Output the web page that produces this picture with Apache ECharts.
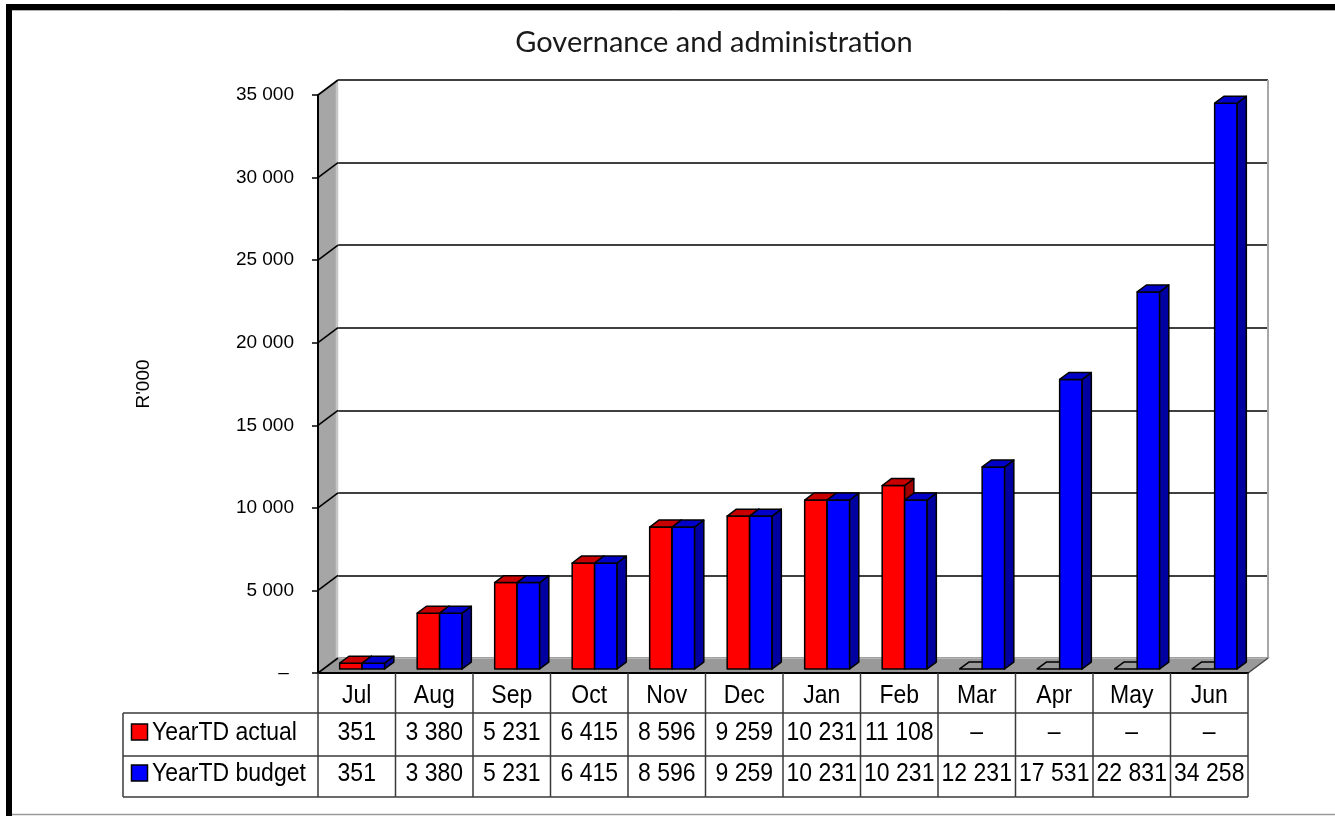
<!DOCTYPE html>
<html>
<head>
<meta charset="utf-8">
<title>Governance and administration</title>
<script src="https://cdn.jsdelivr.net/npm/echarts@6/dist/echarts.min.js"></script>
<style>
  html, body { margin: 0; padding: 0; background: #fff; }
  #chart { width: 1335px; height: 816px; }
</style>
</head>
<body>
<div id="chart"></div>
<script>
// ---- data -------------------------------------------------------------
const categories = ['Jul', 'Aug', 'Sep', 'Oct', 'Nov', 'Dec', 'Jan', 'Feb', 'Mar', 'Apr', 'May', 'Jun'];
const yearTdActual = [351, 3380, 5231, 6415, 8596, 9259, 10231, 11108, 0, 0, 0, 0];
const yearTdBudget = [351, 3380, 5231, 6415, 8596, 9259, 10231, 10231, 12231, 17531, 22831, 34258];
const seriesNames = ['YearTD actual', 'YearTD budget'];
const yMax = 35000;
const yStep = 5000;
const unitLabel = "R'000";
const chartTitle = 'Governance and administration';

// ---- layout & style ---------------------------------------------------
const PLOT = { left: 318, top: 95, width: 930, height: 578 };   // front plane of the 3-D box
const DEPTH = { x: 20, y: -15 };                                  // box depth projection
const BAR_FRONT = 0.27, BAR_BACK = 0.73;                          // bar depth slot inside the box
const BAR_WIDTH = 0.29;                                           // share of a category band
const ROW_H = [40, 43, 41];                                       // data table row heights
const LEGEND_COL_W = 195;
const TABLE_FONT = '"Liberation Sans", Arial, sans-serif';
const TABLE_LINE = '#3a3a3a';
const TEXT_STRETCH = 1.15;                                        // tall, narrow table lettering
const FLOOR = '#999999';
const SIDE_WALL = '#a6a6a6';

const palette = {
  actual: { front: '#ff0000', top: '#c80000', side: '#a00000' },
  budget: { front: '#0000ff', top: '#0000c8', side: '#0000a0' }
};
const seriesColors = [palette.actual.front, palette.budget.front];

function fmt(v) {
  if (v === 0) return '\u2013';
  return String(v).replace(/\B(?=(\d{3})+(?!\d))/g, ' ');
}

function tallText(text, x, y, align) {
  return {
    type: 'text', x: x, y: y, scaleY: TEXT_STRETCH,
    style: { text: text, x: 0, y: 0, fontSize: 23, fontFamily: TABLE_FONT, fill: '#000',
      align: align || 'center', verticalAlign: 'middle' }
  };
}

// ---- renderers --------------------------------------------------------
function wallRenderer(params, api) {
  const cs = params.coordSys;
  const L = cs.x, T = cs.y, R = cs.x + cs.width, B = cs.y + cs.height;
  const dx = DEPTH.x, dy = DEPTH.y;
  const y = api.coord([0, api.value(1)])[1];
  const children = [];
  if (params.dataIndex === 0) {
    children.push({ type: 'polygon', shape: { points: [[L, T], [L + dx, T + dy], [L + dx, B + dy], [L, B]] },
      style: { fill: SIDE_WALL } });
    children.push({ type: 'line', shape: { x1: L + dx - 1, y1: T + dy, x2: L + dx - 1, y2: B + dy },
      style: { stroke: '#c6c6c6', lineWidth: 2.5 } });
    children.push({ type: 'polygon', shape: { points: [[L, B], [L + dx, B + dy], [R + dx, B + dy], [R, B]] },
      style: { fill: FLOOR, stroke: '#c0c0c0', lineWidth: 1.5 } });
    children.push({ type: 'line', shape: { x1: R + dx, y1: T + dy, x2: R + dx, y2: B + dy },
      style: { stroke: '#a8a8a8', lineWidth: 2 } });
    children.push({ type: 'line', shape: { x1: R, y1: B, x2: R + dx, y2: B + dy },
      style: { stroke: '#444', lineWidth: 1.5 } });
  }
  children.push({ type: 'line', shape: { x1: L, y1: y, x2: L + dx, y2: y + dy },
    style: { stroke: '#000', lineWidth: 1.6 } });
  return { type: 'group', children };
}

function barRenderer(side, colors) {
  return function (params, api) {
    const i = api.value(0), v = api.value(1);
    const base = api.coord([i, 0]);
    const top = api.coord([i, v]);
    const band = api.size([1, 0])[0];
    const w = band * BAR_WIDTH;
    const fx = DEPTH.x * BAR_FRONT, fy = DEPTH.y * BAR_FRONT;
    const dx = DEPTH.x * (BAR_BACK - BAR_FRONT), dy = DEPTH.y * (BAR_BACK - BAR_FRONT);
    const xl = base[0] + (side === 0 ? -w : 0) + fx;
    const xr = xl + w;
    const yb = base[1] + fy, yt = top[1] + fy;
    const edge = { stroke: '#000', lineWidth: 1.5, lineJoin: 'round' };
    const children = [];
    if (v > 0) {
      children.push({ type: 'polygon', shape: { points: [[xl, yt], [xr, yt], [xr, yb], [xl, yb]] },
        style: Object.assign({ fill: colors.front }, edge) });
      children.push({ type: 'polygon', shape: { points: [[xr, yt], [xr + dx, yt + dy], [xr + dx, yb + dy], [xr, yb]] },
        style: Object.assign({ fill: colors.side }, edge) });
    }
    children.push({ type: 'polygon', shape: { points: [[xl, yt], [xr, yt], [xr + dx, yt + dy], [xl + dx, yt + dy]] },
      style: Object.assign({ fill: v > 0 ? colors.top : FLOOR }, edge) });
    return { type: 'group', children };
  };
}

// data table under the plot: header row with months, one row per series
function tableRenderer(params, api) {
  const i = api.value(0);
  const c = api.coord([i, 0]);
  const band = api.size([1, 0])[0];
  const x0 = c[0] - band / 2, x1 = c[0] + band / 2;
  const y0 = c[1];
  const y1 = y0 + ROW_H[0], y2 = y1 + ROW_H[1], y3 = y2 + ROW_H[2];
  const r1 = (y1 + y2) / 2 - 1.5, r2 = (y2 + y3) / 2 - 2.5;
  const ln = { stroke: TABLE_LINE, lineWidth: 1.5 };
  const children = [
    { type: 'line', shape: { x1: x0, y1: y0, x2: x0, y2: y3 }, style: ln },
    { type: 'line', shape: { x1: x0, y1: y1, x2: x1, y2: y1 }, style: ln },
    { type: 'line', shape: { x1: x0, y1: y2, x2: x1, y2: y2 }, style: ln },
    { type: 'line', shape: { x1: x0, y1: y3, x2: x1, y2: y3 }, style: ln },
    tallText(categories[i], c[0], (y0 + y1) / 2 + 3),
    tallText(fmt(yearTdActual[i]), c[0], r1),
    tallText(fmt(yearTdBudget[i]), c[0], r2)
  ];
  if (i === categories.length - 1) {
    children.push({ type: 'line', shape: { x1: x1, y1: y0, x2: x1, y2: y3 }, style: ln });
  }
  if (i === 0) {
    const lx = x0 - LEGEND_COL_W;
    children.push({ type: 'line', shape: { x1: lx, y1: y1, x2: x0, y2: y1 }, style: ln });
    children.push({ type: 'line', shape: { x1: lx, y1: y2, x2: x0, y2: y2 }, style: ln });
    children.push({ type: 'line', shape: { x1: lx, y1: y3, x2: x0, y2: y3 }, style: ln });
    children.push({ type: 'line', shape: { x1: lx, y1: y1, x2: lx, y2: y3 }, style: ln });
    [r1, r2].forEach(function (ry, k) {
      children.push({ type: 'rect', shape: { x: lx + 8.5, y: ry - 9, width: 16, height: 16 },
        style: { fill: seriesColors[k], stroke: '#000', lineWidth: 1.5 } });
      children.push(tallText(seriesNames[k], lx + 29, ry, 'left'));
    });
  }
  return { type: 'group', children };
}

// ---- chart ------------------------------------------------------------
const chart = echarts.init(document.getElementById('chart'), null, { renderer: 'canvas' });

const tickValues = [];
for (let v = 0; v <= yMax; v += yStep) tickValues.push(v);

const option = {
  animation: false,
  backgroundColor: '#fff',
  title: {
    text: chartTitle,
    left: 709,
    textAlign: 'center',
    top: 23,
    textStyle: { fontFamily: 'Lato, "Open Sans", sans-serif', fontSize: 29, fontWeight: 'normal', color: '#1a1a1a' }
  },
  grid: [
    { left: PLOT.left, top: PLOT.top, width: PLOT.width, height: PLOT.height },
    { left: PLOT.left + DEPTH.x, top: PLOT.top + DEPTH.y, width: PLOT.width, height: PLOT.height }
  ],
  xAxis: [
    {
      gridIndex: 0, type: 'category', data: categories, z: 5,
      axisLine: { show: true, lineStyle: { color: '#000', width: 2 } },
      axisTick: { show: false },
      axisLabel: { show: false },
      splitLine: { show: false }
    },
    { gridIndex: 1, type: 'category', data: categories, show: false }
  ],
  yAxis: [
    {
      gridIndex: 0, type: 'value', min: 0, max: yMax, interval: yStep, z: 5,
      name: unitLabel, nameLocation: 'middle', nameGap: 165,
      nameTextStyle: { fontFamily: TABLE_FONT, fontSize: 19, color: '#000' },
      axisLine: { show: true, lineStyle: { color: '#000', width: 2 } },
      axisTick: { show: true, inside: false, length: 6, lineStyle: { color: '#000', width: 1.5 } },
      axisLabel: {
        fontFamily: TABLE_FONT, fontSize: 19, color: '#000', margin: 24,
        formatter: v => (v === 0 ? '\u2013 ' : fmt(v))
      },
      splitLine: { show: false }
    },
    {
      gridIndex: 1, type: 'value', min: 0, max: yMax, interval: yStep,
      axisLine: { show: false }, axisTick: { show: false }, axisLabel: { show: false },
      splitLine: { show: true, lineStyle: { color: '#000', width: 1.6 } }
    }
  ],
  graphic: [
    { type: 'rect', shape: { x: 6, y: 4, width: 1329, height: 6 }, style: { fill: '#000' }, z: 10 },
    { type: 'rect', shape: { x: 6, y: 4, width: 6, height: 812 }, style: { fill: '#000' }, z: 10 },
    { type: 'line', shape: { x1: 12, y1: 10.5, x2: 1335, y2: 10.5 }, style: { stroke: '#b0b0b0', lineWidth: 1 }, z: 10 },
    { type: 'line', shape: { x1: 12, y1: 814.5, x2: 1335, y2: 814.5 }, style: { stroke: '#9a9a9a', lineWidth: 1.5 }, z: 10 }
  ],
  series: [
    {
      name: 'walls', type: 'custom', xAxisIndex: 0, yAxisIndex: 0, z: 1, silent: true,
      data: tickValues.map(v => [0, v]),
      encode: { x: 0, y: 1 },
      renderItem: wallRenderer
    },
    {
      name: seriesNames[0], type: 'custom', xAxisIndex: 0, yAxisIndex: 0, z: 3,
      itemStyle: { color: palette.actual.front },
      data: yearTdActual.map((v, i) => [i, v]),
      encode: { x: 0, y: 1 },
      renderItem: barRenderer(0, palette.actual)
    },
    {
      name: seriesNames[1], type: 'custom', xAxisIndex: 0, yAxisIndex: 0, z: 4,
      itemStyle: { color: palette.budget.front },
      data: yearTdBudget.map((v, i) => [i, v]),
      encode: { x: 0, y: 1 },
      renderItem: barRenderer(1, palette.budget)
    },
    {
      name: 'table', type: 'custom', xAxisIndex: 0, yAxisIndex: 0, z: 6, silent: true,
      data: categories.map((c, i) => [i, 0]),
      encode: { x: 0, y: 1 },
      renderItem: tableRenderer
    }
  ]
};

chart.setOption(option);
</script>
</body>
</html>
